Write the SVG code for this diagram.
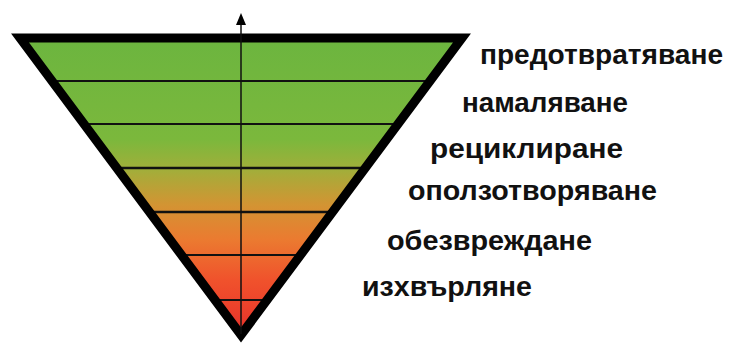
<svg xmlns="http://www.w3.org/2000/svg" width="733" height="345" viewBox="0 0 733 345">
<style>
.lbl{font-family:"Liberation Sans",Arial,sans-serif;font-weight:bold;font-size:28px;fill:#111;}
.band{stroke:#111;stroke-width:2;}
.band2{stroke:#111;stroke-width:2.6;}
</style>
<defs>
<linearGradient id="g" gradientUnits="userSpaceOnUse" x1="0" y1="38" x2="0" y2="336">
<stop offset="0" stop-color="#6cb53f"/>
<stop offset="0.34" stop-color="#7bb83c"/>
<stop offset="0.443" stop-color="#a2ae3a"/>
<stop offset="0.56" stop-color="#d39433"/>
<stop offset="0.678" stop-color="#eb7a30"/>
<stop offset="0.812" stop-color="#f0522c"/>
<stop offset="1" stop-color="#e8302a"/>
</linearGradient>
<clipPath id="tri"><polygon points="20,38 462,38 241,335"/></clipPath>
</defs>
<g id="pyramid">
<polygon points="20,38 462,38 241,335" fill="url(#g)"/>
<g clip-path="url(#tri)">
<line class="band" x1="0" y1="81" x2="480" y2="81"/>
<line class="band" x1="0" y1="124" x2="480" y2="124"/>
<line class="band2" x1="0" y1="168" x2="480" y2="168"/>
<line class="band2" x1="0" y1="212" x2="480" y2="212"/>
<line class="band" x1="0" y1="255" x2="480" y2="255"/>
<line class="band" x1="0" y1="300" x2="480" y2="300"/>
</g>
<polygon points="20,38 462,38 241,335" fill="none" stroke="#000" stroke-width="9" stroke-linejoin="miter"/>
</g>
<g id="connectors">
<line x1="241" y1="24" x2="241" y2="334" stroke="#111" stroke-width="1.5"/>
<polygon points="241,13 236,25 246,25" fill="#000"/>
</g>
<g id="labels">
<text class="lbl" x="480" y="64" textLength="243" lengthAdjust="spacingAndGlyphs">предотвратяване</text>
<text class="lbl" x="462" y="112" textLength="166" lengthAdjust="spacingAndGlyphs">намаляване</text>
<text class="lbl" x="430" y="158" textLength="193" lengthAdjust="spacingAndGlyphs">рециклиране</text>
<text class="lbl" x="408" y="200" textLength="249" lengthAdjust="spacingAndGlyphs">оползотворяване</text>
<text class="lbl" x="387" y="250" textLength="205" lengthAdjust="spacingAndGlyphs">обезвреждане</text>
<text class="lbl" x="362" y="296" textLength="170" lengthAdjust="spacingAndGlyphs">изхвърляне</text>
</g>
</svg>
